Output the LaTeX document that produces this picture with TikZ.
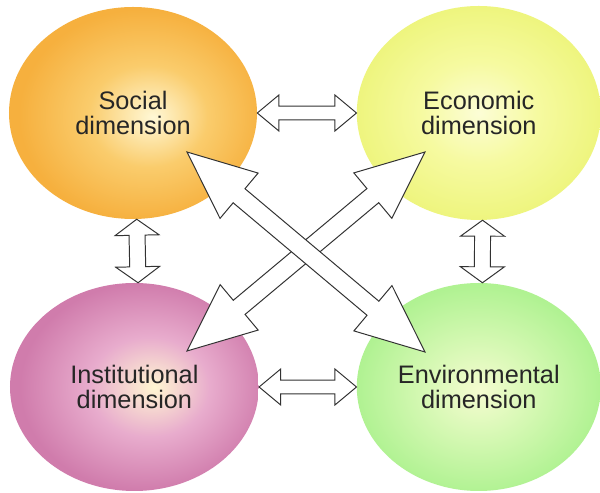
\documentclass[tikz,border=0pt]{standalone}
\usepackage{fontspec}
\setmainfont{Liberation Sans}
\usetikzlibrary{calc,shapes.geometric}

\definecolor{dimtext}{RGB}{38,38,38}
\definecolor{arrowline}{RGB}{50,50,50}
\definecolor{soccore}{RGB}{255,248,214}
\definecolor{socmid}{RGB}{250,204,108}
\definecolor{socedge}{RGB}{246,176,62}
\definecolor{ecocore}{RGB}{252,253,214}
\definecolor{ecomid}{RGB}{246,250,160}
\definecolor{ecoedge}{RGB}{238,245,126}
\definecolor{inscore}{RGB}{255,246,210}
\definecolor{insmid}{RGB}{232,172,205}
\definecolor{insedge}{RGB}{208,124,172}
\definecolor{envcore}{RGB}{245,252,208}
\definecolor{envmid}{RGB}{212,248,178}
\definecolor{envedge}{RGB}{176,242,146}

\pgfdeclareradialshading{socshade}{\pgfpoint{4bp}{-1bp}}{color(0bp)=(soccore); color(12bp)=(socmid); color(25bp)=(socedge); color(50bp)=(socedge)}
\pgfdeclareradialshading{ecoshade}{\pgfpoint{0bp}{0bp}}{color(0bp)=(ecocore); color(12bp)=(ecomid); color(25bp)=(ecoedge); color(50bp)=(ecoedge)}
\pgfdeclareradialshading{insshade}{\pgfpoint{4bp}{0bp}}{color(0bp)=(inscore); color(12bp)=(insmid); color(25bp)=(insedge); color(50bp)=(insedge)}
\pgfdeclareradialshading{envshade}{\pgfpoint{0bp}{-1bp}}{color(0bp)=(envcore); color(12bp)=(envmid); color(25bp)=(envedge); color(50bp)=(envedge)}

\begin{document}
\begin{tikzpicture}
	[dim/.style={ellipse, shade, inner sep=0pt, minimum width=6.2cm, minimum height=5.3cm, align=center, text=dimtext, font=\fontsize{18}{18}\selectfont},
	 blockarrow/.style n args={3}{draw=arrowline, fill=white, line width=0.7pt, line join=miter, to path={
		-- ($(\tikztostart)!#3!(\tikztotarget)!#2!90:(\tikztotarget)$)
		-- ($(\tikztostart)!#3!(\tikztotarget)!#1!90:(\tikztotarget)$)
		-- ($(\tikztotarget)!#3!(\tikztostart)!#1!-90:(\tikztostart)$)
		-- ($(\tikztotarget)!#3!(\tikztostart)!#2!-90:(\tikztostart)$)
		-- (\tikztotarget)
		-- ($(\tikztotarget)!#3!(\tikztostart)!#2!90:(\tikztostart)$)
		-- ($(\tikztotarget)!#3!(\tikztostart)!#1!90:(\tikztostart)$)
		-- ($(\tikztostart)!#3!(\tikztotarget)!#1!-90:(\tikztotarget)$)
		-- ($(\tikztostart)!#3!(\tikztotarget)!#2!-90:(\tikztotarget)$)
		-- cycle}},
	 hbar/.style={blockarrow={0.17cm}{0.45cm}{0.54cm}},
	 vbar/.style={blockarrow={0.2cm}{0.55cm}{0.4cm}},
	 xbar/.style={blockarrow={0.23cm}{0.74cm}{1.7cm}}]
	\useasboundingbox[fill=white] (0,0) rectangle (15,12.325);
	\node[dim, shading=socshade, minimum width=6.2cm] (soc) at (3.325,9.5) {Social\\dimension};
	\node[dim, shading=ecoshade, minimum width=6.1cm, minimum height=5.35cm] (eco) at (11.97,9.5) {Economic\\dimension};
	\node[dim, shading=insshade, minimum width=6.22cm, minimum height=5.2cm] (ins) at (3.36,2.65) {Institutional\\dimension};
	\node[dim, shading=envshade, minimum width=6.1cm, minimum height=5.2cm] (env) at (11.97,2.65) {Environmental\\dimension};
	\coordinate (nwtip) at (4.675,8.525);
	\coordinate (setip) at (10.625,3.525);
	\coordinate (swtip) at (4.675,3.55);
	\coordinate (netip) at (10.625,8.525);
	\draw[hbar] (soc.east) to (eco.west);
	\draw[hbar] (ins.east) to (env.west);
	\draw[vbar] (soc.-88) to (ins.88);
	\draw[vbar] (eco.-88) to (env.88);
	\draw[xbar] (swtip) to (netip);
	\draw[xbar] (nwtip) to (setip);
\end{tikzpicture}
\end{document}
